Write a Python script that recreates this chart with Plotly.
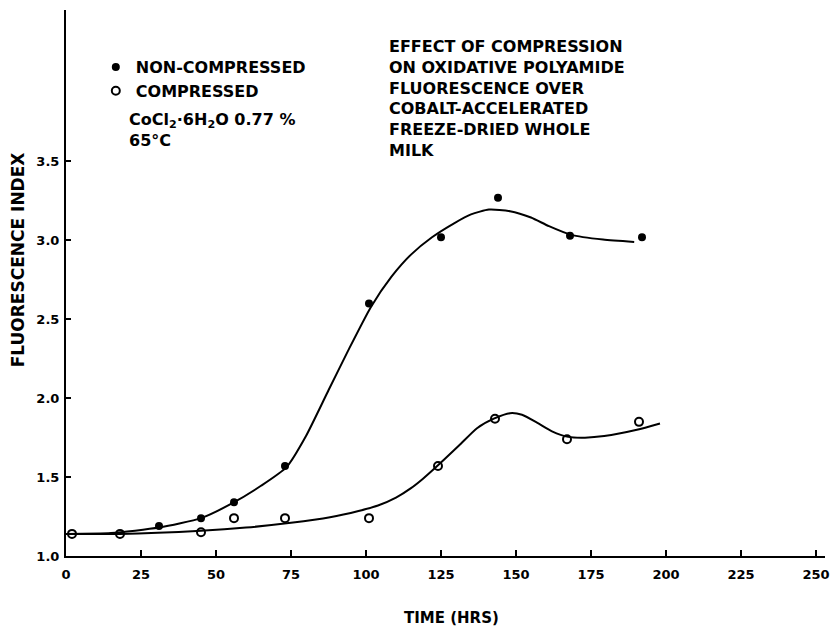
import plotly.graph_objects as go

# ---- data ----
# measured points
noncomp_time = [31, 45, 56, 73, 101, 125, 144, 168, 192]
noncomp_fi = [1.19, 1.24, 1.34, 1.57, 2.60, 3.02, 3.27, 3.03, 3.02]

comp_time = [2, 18, 45, 56, 73, 101, 124, 143, 167, 191]
comp_fi = [1.14, 1.14, 1.15, 1.24, 1.24, 1.24, 1.57, 1.87, 1.74, 1.85]

# hand-drawn smoothed curves
noncomp_curve_t = [0, 15, 31, 45, 55, 65, 73.6, 80, 87.5, 94, 101.7, 108.5, 115, 122, 129.5,
                   135, 141, 148, 155, 161, 168.4, 179, 189.4]
noncomp_curve_y = [1.14, 1.145, 1.18, 1.24, 1.33, 1.445, 1.565, 1.76, 2.05, 2.30, 2.58, 2.77, 2.91,
                   3.02, 3.11, 3.165, 3.195, 3.185, 3.145, 3.09, 3.035, 3.005, 2.99]

comp_curve_t = [0, 18, 45, 60, 75, 88, 97.5, 104, 110, 115, 119, 124, 131, 137, 142.6, 148,
                152, 157, 162, 167.4, 173, 179.4, 190.3, 198]
comp_curve_y = [1.14, 1.14, 1.16, 1.18, 1.21, 1.245, 1.285, 1.32, 1.37, 1.43, 1.49, 1.575, 1.70,
                1.81, 1.87, 1.905, 1.895, 1.845, 1.79, 1.755, 1.75, 1.76, 1.80, 1.84]

x_ticks = [0, 25, 50, 75, 100, 125, 150, 175, 200, 225, 250]
y_ticks = [1.0, 1.5, 2.0, 2.5, 3.0, 3.5]

FONT = "DejaVu Sans"
W, H = 840, 631
ML, MR, MT, MB = 66, 10, 10, 75


def px(x):
    return (x - ML) / (W - ML - MR)


def py(y):
    return (H - MB - y) / (H - MT - MB)


fig = go.Figure()

curve_line = dict(color="black", width=2, shape="spline", smoothing=0.6)
fig.add_trace(go.Scatter(x=noncomp_curve_t, y=noncomp_curve_y, mode="lines",
                         line=curve_line, showlegend=False, hoverinfo="skip"))
fig.add_trace(go.Scatter(x=comp_curve_t, y=comp_curve_y, mode="lines",
                         line=curve_line, showlegend=False, hoverinfo="skip"))
fig.add_trace(go.Scatter(x=noncomp_time, y=noncomp_fi, mode="markers",
                         name="NON-COMPRESSED",
                         marker=dict(symbol="circle", size=8, color="black")))
fig.add_trace(go.Scatter(x=comp_time, y=comp_fi, mode="markers",
                         name="COMPRESSED",
                         marker=dict(symbol="circle-open", size=8, color="black",
                                     line=dict(width=2, color="black"))))

tickfont = dict(family=FONT, size=13, color="black", weight="bold")

fig.update_layout(
    width=W, height=H,
    margin=dict(l=ML, r=MR, t=MT, b=MB),
    paper_bgcolor="white", plot_bgcolor="white",
    font=dict(family=FONT, color="black"),
    xaxis=dict(range=[0, 253], tickvals=x_ticks, ticktext=[str(v) for v in x_ticks],
               showgrid=False, zeroline=False, showline=True, linecolor="black", linewidth=2,
               ticks="inside", ticklen=6, tickwidth=1.5, tickcolor="black",
               tickfont=tickfont, ticklabelstandoff=5),
    yaxis=dict(range=[1.0, 4.46], tickvals=y_ticks, ticktext=[f"{v:.1f}" for v in y_ticks],
               showgrid=False, zeroline=False, showline=True, linecolor="black", linewidth=2,
               ticks="inside", ticklen=5, tickwidth=1.5, tickcolor="black",
               tickfont=tickfont, ticklabelstandoff=2),
    legend=dict(x=px(96), y=py(50), xanchor="left", yanchor="top",
                bgcolor="rgba(0,0,0,0)", itemwidth=30, tracegroupgap=0,
                font=dict(family=FONT, size=16, color="black", weight="bold")),
)

annotations = [
    dict(text="FLUORESCENCE INDEX", x=px(18), y=py(260), textangle=-90,
         font=dict(family=FONT, size=17, weight="bold")),
    dict(text="TIME (HRS)", x=px(454), y=py(618),
         font=dict(family=FONT, size=15, weight="bold")),
    dict(text="CoCl<sub>2</sub>·6H<sub>2</sub>O 0.77 %<br>65°C", x=px(127), y=py(108),
         xanchor="left", yanchor="top", align="left",
         font=dict(family=FONT, size=16, weight="bold")),
    dict(text="EFFECT OF COMPRESSION<br>ON OXIDATIVE POLYAMIDE<br>FLUORESCENCE OVER<br>"
              "COBALT-ACCELERATED<br>FREEZE-DRIED WHOLE<br>MILK",
         x=px(389), y=py(35), xanchor="left", yanchor="top", align="left",
         font=dict(family=FONT, size=16, weight="bold")),
]
for a in annotations:
    a.setdefault("xanchor", "center")
    a.setdefault("yanchor", "middle")
    fig.add_annotation(xref="paper", yref="paper", showarrow=False,
                       font_color="black", **a)

fig.write_html("out.html")
